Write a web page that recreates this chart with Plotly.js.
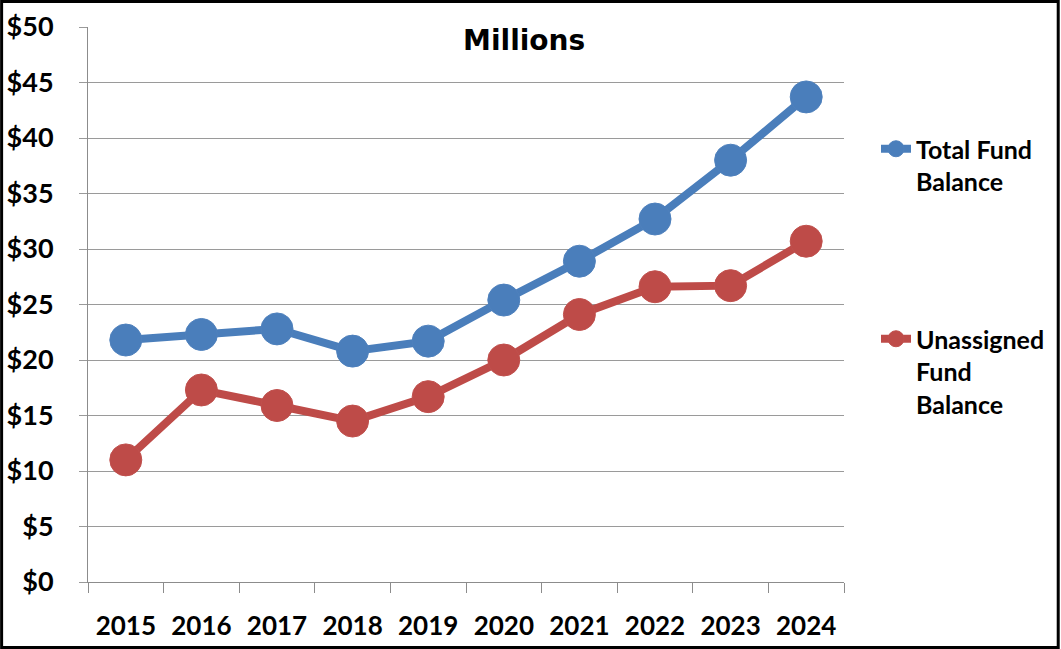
<!DOCTYPE html>
<html>
<head>
<meta charset="utf-8">
<script src="https://cdn.plot.ly/plotly-3.0.1.min.js"></script>
<style>
html,body{margin:0;padding:0;background:#fff;overflow:hidden;}
#chart{width:1061px;height:649px;}
</style>
</head>
<body>
<div id="chart"></div>
<script>
var years = ["2015","2016","2017","2018","2019","2020","2021","2022","2023","2024"];
var totalFund = [21.8, 22.3, 22.8, 20.8, 21.7, 25.4, 28.9, 32.7, 38.0, 43.7];
var unassignedFund = [11.0, 17.3, 15.9, 14.5, 16.7, 20.0, 24.1, 26.6, 26.7, 30.7];
var seriesNames = ["Total Fund<br>Balance", "Unassigned<br>Fund<br>Balance"];
var chartTitle = "Millions";

var W = 1061, H = 649;
var L = 88, R = 845, T = 27, B = 582;
var pw = R - L, ph = B - T;
var font = "Lato, 'Open Sans', sans-serif";

var traces = [
  {
    x: years, y: totalFund, name: seriesNames[0], legendgroup: "a",
    type: "scatter", mode: "lines+markers",
    line: {color: "#4a7ebb", width: 8},
    marker: {color: "#4a7ebb", size: 32, line: {color: "#4f81bd", width: 1}}
  },
  {
    x: years, y: unassignedFund, name: seriesNames[1], legendgroup: "b",
    type: "scatter", mode: "lines+markers",
    line: {color: "#be4b48", width: 8},
    marker: {color: "#be4b48", size: 32, line: {color: "#c0504d", width: 1}}
  }
];

var layout = {
  width: W, height: H,
  margin: {l: L, r: W - R, t: T, b: H - B, pad: 0},
  paper_bgcolor: "#ffffff", plot_bgcolor: "#ffffff",
  font: {family: font, color: "#000", size: 25},
  title: {
    text: "<b>" + chartTitle + "</b>",
    font: {family: "'DejaVu Sans', sans-serif", size: 28, color: "#000"},
    xref: "container", yref: "container",
    x: 0.494, xanchor: "center", y: 1 - 40 / H, yanchor: "middle"
  },
  showlegend: true,
  legend: {
    x: (876 - L) / pw, xanchor: "left",
    y: (B - 126) / ph, yanchor: "top",
    font: {family: font, size: 25, color: "#000", weight: "bold"},
    valign: "top",
    tracegroupgap: 122,
    bgcolor: "rgba(0,0,0,0)"
  },
  xaxis: {
    type: "category",
    range: [-0.5, 9.5],
    showgrid: false,
    showline: true, linecolor: "#8c8c8c", linewidth: 1,
    ticks: "outside", tickson: "boundaries", ticklen: 10, tickcolor: "#8c8c8c", tickwidth: 1,
    tickfont: {family: font, size: 26, color: "#000", weight: "bold"},
    ticklabelstandoff: 21,
    fixedrange: true
  },
  yaxis: {
    range: [0, 50],
    dtick: 5, tick0: 0,
    tickprefix: "$",
    showgrid: true, gridcolor: "#9a9a9a", gridwidth: 1,
    zeroline: false,
    showline: true, linecolor: "#8c8c8c", linewidth: 1,
    ticks: "outside", ticklen: 8, tickcolor: "#9a9a9a", tickwidth: 1,
    tickfont: {family: font, size: 27, color: "#000", weight: "bold"},
    ticklabelstandoff: 20,
    fixedrange: true
  },
  shapes: [
    {
      type: "rect", xref: "paper", yref: "paper",
      x0: (1.5 - L) / pw, x1: (1059.5 - L) / pw,
      y0: (B - 647.5) / ph, y1: (B - 1.5) / ph,
      line: {color: "#000", width: 3}, fillcolor: "rgba(0,0,0,0)", layer: "above"
    }
  ],
  hovermode: false
};

Plotly.newPlot("chart", traces, layout, {displayModeBar: false, staticPlot: true});
</script>
</body>
</html>
